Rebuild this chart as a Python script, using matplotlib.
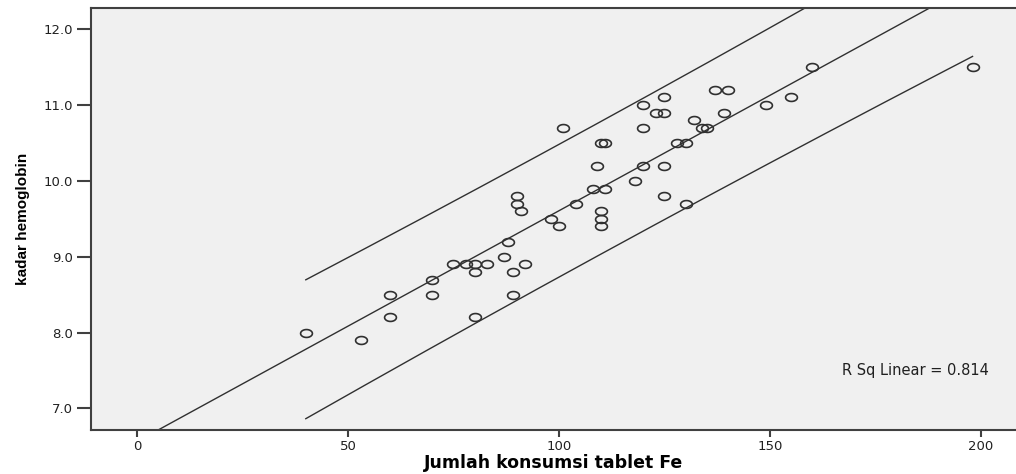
import numpy as np
import matplotlib
matplotlib.use('Agg')
import matplotlib.pyplot as plt
from matplotlib.path import Path

# data
tablet_fe = [40, 53, 60, 60, 70, 70, 75, 78, 80, 83, 80, 80, 87, 88, 89, 89, 92,
             90, 90, 91, 98, 100, 101, 104, 108, 109, 110, 110, 110, 110, 111, 111,
             118, 120, 120, 120, 123, 125, 125, 125, 125, 128, 130, 130, 132, 134,
             135, 137, 139, 140, 149, 155, 160, 198]
hemoglobin = [8.0, 7.9, 8.5, 8.2, 8.7, 8.5, 8.9, 8.9, 8.9, 8.9, 8.8, 8.2, 9.0, 9.2,
              8.8, 8.5, 8.9, 9.8, 9.7, 9.6, 9.5, 9.4, 10.7, 9.7, 9.9, 10.2, 10.5,
              9.6, 9.5, 9.4, 10.5, 9.9, 10.0, 11.0, 10.7, 10.2, 10.9, 10.9, 11.1,
              10.2, 9.8, 10.5, 10.5, 9.7, 10.8, 10.7, 10.7, 11.2, 10.9, 11.2, 11.0,
              11.1, 11.5, 11.5]
r_sq_text = 'R Sq Linear = 0.814'

x = np.array(tablet_fe, dtype=float)
y = np.array(hemoglobin, dtype=float)
n = len(x)

# linear fit and 95% individual prediction interval
slope, intercept = np.polyfit(x, y, 1)
resid = y - (intercept + slope * x)
s = np.sqrt(np.sum(resid ** 2) / (n - 2))
t_val = 2.007
sxx = np.sum((x - x.mean()) ** 2)

xx = np.linspace(-20, 220, 200)
fit = intercept + slope * xx
xp = np.linspace(x.min(), x.max(), 200)
half = t_val * s * np.sqrt(1 + 1 / n + (xp - x.mean()) ** 2 / sxx)
pred = intercept + slope * xp

fig = plt.figure(figsize=(10.16, 4.74), dpi=100)
ax = fig.add_axes([91 / 1016, 1 - 430 / 474, 1 - 91 / 1016, 422 / 474])
ax.set_facecolor('#f0f0f0')

line_col = '#303030'
ax.plot(xx, fit, color=line_col, lw=1.0)
ax.plot(xp, pred + half, color=line_col, lw=1.0)
ax.plot(xp, pred - half, color=line_col, lw=1.0)

# slightly wide open circles like in the picture
th = np.linspace(0, 2 * np.pi, 60)
ellipse = Path(np.column_stack([1.5 * np.cos(th), np.sin(th)]), closed=True)
ax.plot(x, y, linestyle='none', marker=ellipse, markersize=8.5,
        markerfacecolor='none', markeredgecolor=line_col, markeredgewidth=1.2)

ax.set_xlim(-10.9, 208.3)
ax.set_ylim(6.716, 12.28)
ax.set_xticks([0, 50, 100, 150, 200])
ax.set_yticks([7.0, 8.0, 9.0, 10.0, 11.0, 12.0])
ax.set_yticklabels(['7.0', '8.0', '9.0', '10.0', '11.0', '12.0'])

for side in ['left', 'bottom', 'top']:
    ax.spines[side].set_color('#404040')
    ax.spines[side].set_linewidth(1.5)
ax.spines['right'].set_visible(False)

ax.tick_params(axis='y', length=10, width=1.5, color='#404040', pad=3,
               labelsize=9.5, labelcolor='#202020')
ax.tick_params(axis='x', length=5, width=1.5, color='#404040', pad=2,
               labelsize=9.5, labelcolor='#202020')

ax.set_xlabel('Jumlah konsumsi tablet Fe', fontsize=12.5, fontweight='bold',
              labelpad=1)
ax.set_ylabel('kadar hemoglobin', fontsize=11, fontweight='bold',
              family=['Liberation Sans', 'DejaVu Sans'], labelpad=10)

ax.text(0.971, 0.142, r_sq_text, transform=ax.transAxes, ha='right', va='center',
        fontsize=10.5, color='#202020')

fig.savefig('out.png', dpi=100)
